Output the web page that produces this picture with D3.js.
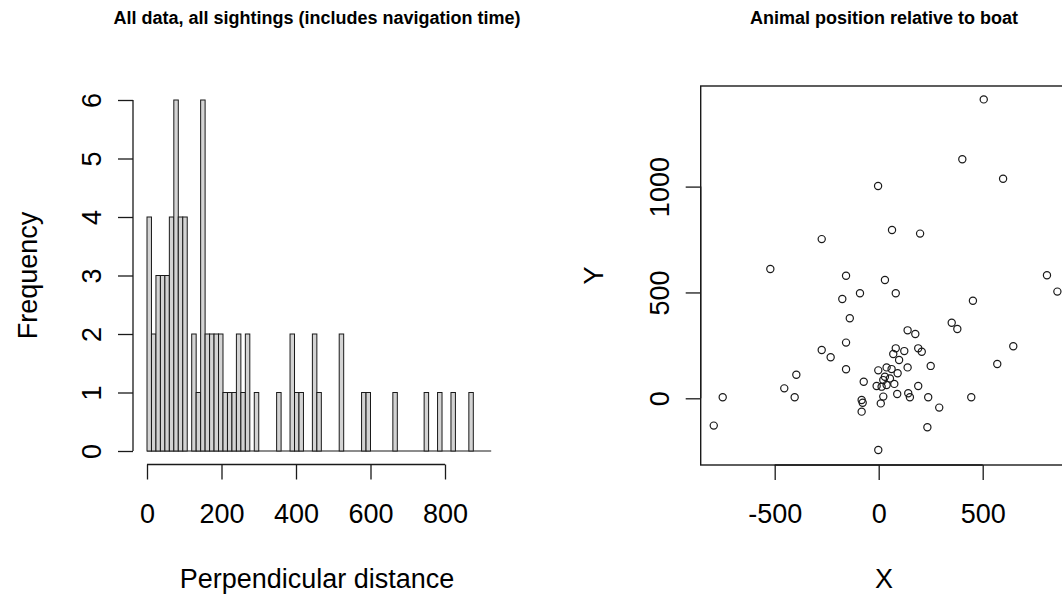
<!DOCTYPE html>
<html>
<head>
<meta charset="utf-8">
<script src="https://cdn.jsdelivr.net/npm/d3@7"></script>
<style>
  html, body { margin: 0; padding: 0; background: #fff; }
  svg { display: block; }
  text { font-family: "Liberation Sans", Arial, sans-serif; fill: #000; }
</style>
</head>
<body>
<svg id="chart" width="1062" height="594"></svg>
<script>
// ---- histogram of perpendicular distances (bins of 12 units from 0) ----
const binWidth = 12;
const histCounts = [
  4, 2, 3, 3, 3, 4, 6, 4, 4, 0,
  2, 1, 6, 2, 2, 2, 2, 1, 1, 1,
  2, 1, 2, 0, 1, 0, 0, 0, 0, 1,
  0, 0, 2, 1, 1, 0, 0, 2, 1, 0,
  0, 0, 0, 2, 0, 0, 0, 0, 1, 1,
  0, 0, 0, 0, 0, 1, 0, 0, 0, 0,
  0, 0, 1, 0, 0, 1, 0, 0, 1, 0,
  0, 0, 1, 0, 0, 0, 0
];
const histXTicks = [0, 200, 400, 600, 800];
const histYTicks = [0, 1, 2, 3, 4, 5, 6];

// ---- sighting positions relative to the boat ----
const sightX = [505, 402, 598, -3, 64, 199, -274, -521, -157, 30, 809, 859, -90, -175, 82, 453,
  -139, 351, 378, 139, 176, -157, 647, -274, -231, 570, 82, 190, 207, 123, 70, 98, 250, 139,
  -157, -2, 38, 62, 91, -396, -72, 30, 22, 54, -10, 14, 38, 75, 190, -454, 89, 142, 150, 22,
  238, 445, -404, -750, 291, 10, -77, -82, -82, 234, -2, -793];
const sightY = [1412, 1129, 1037, 1003, 795, 778, 752, 611, 579, 559, 581, 504, 496, 469, 496, 461,
  378, 357, 327, 321, 304, 263, 246, 228, 194, 162, 236, 236, 220, 223, 209, 181, 153, 146,
  137, 132, 146, 138, 118, 111, 78, 102, 86, 94, 58, 55, 63, 68, 58, 47, 20, 24, 5, 8,
  5, 5, 5, 5, -44, -24, -21, -8, -63, -137, -244, -129];
const scatXTicks = [-500, 0, 500];
const scatYTicks = [0, 500, 1000];

const svg = d3.select("#chart");
svg.append("rect").attr("width", 1062).attr("height", 594).attr("fill", "#fff");

const ink = "#1a1a1a";
const axisFont = 27;
const titleFont = 18;
const plotTop = 86, plotBottom = 465;
const titleBaseline = 24, xlabBaseline = 588;

// R-style axis: line spans first to last tick, ticks pointing outward
function rBottomAxis(g, scale, ticks, y) {
  const ax = d3.axisBottom(scale).tickValues(ticks).tickSize(15).tickPadding(24)
    .tickFormat(d3.format("d"));
  const sel = g.append("g").attr("transform", `translate(0,${y})`).call(ax);
  sel.select(".domain").remove();
  sel.append("line")
    .attr("x1", scale(ticks[0])).attr("x2", scale(ticks[ticks.length - 1]))
    .attr("y1", 0).attr("y2", 0);
  sel.selectAll("line").attr("stroke", ink).attr("stroke-width", 1.3);
  sel.selectAll("text").attr("font-size", axisFont).attr("fill", "#000")
    .attr("font-family", "Liberation Sans, Arial, sans-serif")
    .text(d => d < 0 ? "-" + Math.abs(d) : String(d));
  return sel;
}
function rLeftAxis(g, scale, ticks, x) {
  const ax = d3.axisLeft(scale).tickValues(ticks).tickSize(15).tickFormat(d3.format("d"));
  const sel = g.append("g").attr("transform", `translate(${x},0)`).call(ax);
  sel.select(".domain").remove();
  sel.append("line")
    .attr("y1", scale(ticks[0])).attr("y2", scale(ticks[ticks.length - 1]))
    .attr("x1", 0).attr("x2", 0);
  sel.selectAll("line").attr("stroke", ink).attr("stroke-width", 1.3);
  sel.selectAll("text")
    .attr("x", null).attr("dy", null)
    .attr("transform", "translate(-32,0) rotate(-90)")
    .attr("text-anchor", "middle")
    .attr("font-size", axisFont).attr("fill", "#000")
    .attr("font-family", "Liberation Sans, Arial, sans-serif");
  return sel;
}

// ================= left panel: histogram =================
const hist = svg.append("g");
const hx = d3.scaleLinear().domain([0, 800]).range([147, 445]);
const hy = d3.scaleLinear().domain([0, 6]).range([451, 100]);

const bins = histCounts.map((c, i) => ({ x0: i * binWidth, x1: (i + 1) * binWidth, n: c }));

// zero-count bins collapse onto the baseline
hist.append("line")
  .attr("x1", hx(bins[0].x0)).attr("x2", hx(bins[bins.length - 1].x1))
  .attr("y1", hy(0)).attr("y2", hy(0))
  .attr("stroke", ink).attr("stroke-width", 1.2);

hist.selectAll("rect.bar")
  .data(bins.filter(b => b.n > 0))
  .join("rect")
  .attr("class", "bar")
  .attr("x", b => hx(b.x0))
  .attr("width", b => hx(b.x1) - hx(b.x0))
  .attr("y", b => hy(b.n))
  .attr("height", b => hy(0) - hy(b.n))
  .attr("fill", "#d3d3d3")
  .attr("stroke", ink)
  .attr("stroke-width", 1);

rBottomAxis(hist, hx, histXTicks, 464.5);
rLeftAxis(hist, hy, histYTicks, 133);

hist.append("text")
  .attr("x", 317).attr("y", titleBaseline)
  .attr("text-anchor", "middle")
  .attr("font-size", titleFont).attr("font-weight", "bold")
  .text("All data, all sightings (includes navigation time)");

hist.append("text")
  .attr("x", 317).attr("y", xlabBaseline)
  .attr("text-anchor", "middle")
  .attr("font-size", axisFont)
  .text("Perpendicular distance");

hist.append("text")
  .attr("transform", `translate(37,${(plotTop + plotBottom) / 2}) rotate(-90)`)
  .attr("text-anchor", "middle")
  .attr("font-size", axisFont)
  .text("Frequency");

// ================= right panel: scatter =================
const scat = svg.append("g");
const sx = d3.scaleLinear().domain([-500, 500]).range([774.7, 982.7]);
const sy = d3.scaleLinear().domain([0, 1000]).range([398.3, 186.6]);

const boxLeft = 700.7, boxRight = 1068;
scat.append("rect")
  .attr("x", boxLeft).attr("y", plotTop)
  .attr("width", boxRight - boxLeft).attr("height", plotBottom - plotTop)
  .attr("fill", "none").attr("stroke", ink).attr("stroke-width", 1.4);

scat.selectAll("circle.pt")
  .data(sightX.map((x, i) => ({ x, y: sightY[i] })))
  .join("circle")
  .attr("class", "pt")
  .attr("cx", d => sx(d.x))
  .attr("cy", d => sy(d.y))
  .attr("r", 3.6)
  .attr("fill", "none")
  .attr("stroke", ink)
  .attr("stroke-width", 1.2);

rBottomAxis(scat, sx, scatXTicks, plotBottom);
rLeftAxis(scat, sy, scatYTicks, boxLeft);

scat.append("text")
  .attr("x", 884).attr("y", titleBaseline)
  .attr("text-anchor", "middle")
  .attr("font-size", titleFont).attr("font-weight", "bold")
  .text("Animal position relative to boat");

scat.append("text")
  .attr("x", 884).attr("y", xlabBaseline)
  .attr("text-anchor", "middle")
  .attr("font-size", axisFont)
  .text("X");

scat.append("text")
  .attr("transform", `translate(603,${(plotTop + plotBottom) / 2}) rotate(-90)`)
  .attr("text-anchor", "middle")
  .attr("font-size", axisFont)
  .text("Y");
</script>
</body>
</html>
